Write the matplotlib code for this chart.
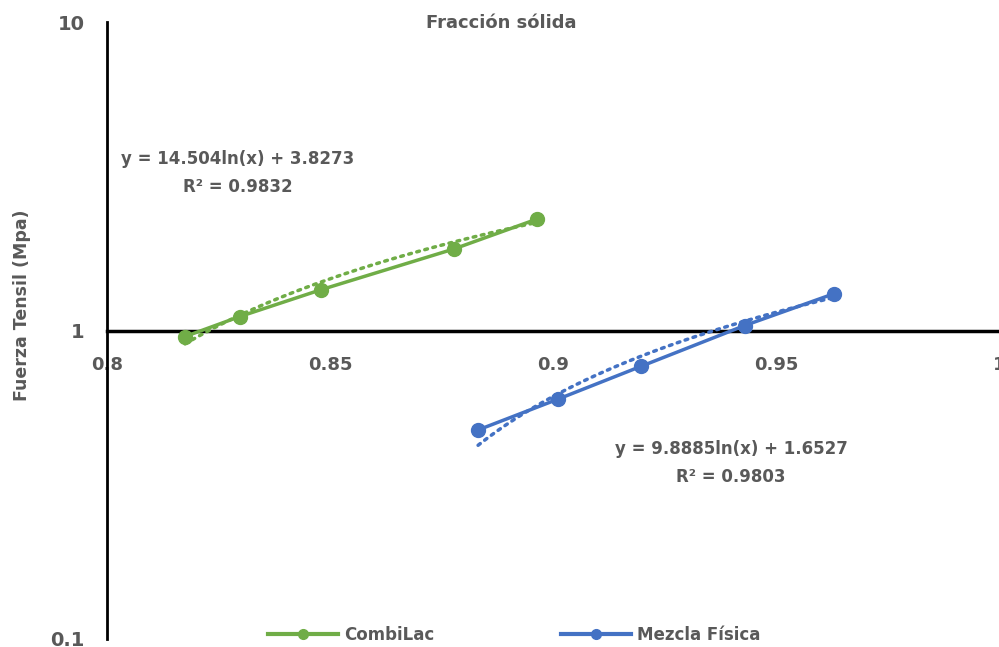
import numpy as np
import matplotlib
matplotlib.use("Agg")
import matplotlib.pyplot as plt

# Data
combilac_x = [0.8175, 0.8298, 0.848, 0.8778, 0.8964]
combilac_y = [0.956, 1.11, 1.356, 1.838, 2.297]
mezcla_x = [0.8832, 0.9011, 0.9197, 0.9430, 0.9630]
mezcla_y = [0.476, 0.599, 0.765, 1.038, 1.316]

# Trendline coefficients (logarithmic: y = a ln(x) + b)
combilac_trend = (14.504, 3.8273)
mezcla_trend = (9.8885, 1.6527)
combilac_eq = "y = 14.504ln(x) + 3.8273\nR² = 0.9832"
mezcla_eq = "y = 9.8885ln(x) + 1.6527\nR² = 0.9803"

x_ticks = [0.8, 0.85, 0.9, 0.95, 1.0]
x_tick_labels = ["0.8", "0.85", "0.9", "0.95", "1"]
y_ticks = [0.1, 1, 10]
y_tick_labels = ["0.1", "1", "10"]

green = "#70AD47"
blue = "#4472C4"
gray = "#595959"

plt.rcParams['font.family'] = ['DejaVu Sans']
plt.rcParams['font.weight'] = 'bold'

fig = plt.figure(figsize=(9.99, 6.47), dpi=100)
ax = fig.add_axes([107/999, 1 - 639/647, 1 - 107/999, (639 - 22) / 647])

ax.set_yscale('log')
ax.set_xlim(0.8, 1.0)
ax.set_ylim(0.1, 10)

def trend(xs, coef):
    xs = np.linspace(min(xs), max(xs), 100)
    return xs, coef[0] * np.log(xs) + coef[1]

tx, ty = trend(combilac_x, combilac_trend)
ax.plot(tx, ty, color=green, lw=2.5, ls=(0, (0.8, 1.6)), dash_capstyle='round', zorder=2)
tx, ty = trend(mezcla_x, mezcla_trend)
ax.plot(tx, ty, color=blue, lw=2.5, ls=(0, (0.8, 1.6)), dash_capstyle='round', zorder=2)

ax.plot(combilac_x, combilac_y, color=green, lw=2.5, marker='o', ms=10, label='CombiLac', zorder=3)
ax.plot(mezcla_x, mezcla_y, color=blue, lw=2.5, marker='o', ms=10, label='Mezcla Física', zorder=3)

for s in ['top', 'right']:
    ax.spines[s].set_visible(False)
ax.spines['left'].set_linewidth(2)
ax.spines['bottom'].set_position(('data', 1))
ax.spines['bottom'].set_linewidth(2.5)
ax.spines['bottom'].set_zorder(1)

ax.set_xticks(x_ticks)
ax.set_xticklabels(x_tick_labels)
ax.set_yticks(y_ticks)
ax.set_yticklabels(y_tick_labels)
ax.yaxis.set_minor_locator(matplotlib.ticker.NullLocator())
ax.tick_params(axis='x', length=0, pad=18, labelsize=13, labelcolor=gray)
ax.tick_params(axis='y', length=0, pad=16, labelsize=14, labelcolor=gray)
for lab in ax.get_xticklabels() + ax.get_yticklabels():
    lab.set_fontweight('bold')

fig.text(501/999, 1 - 23/647, "Fracción sólida", ha='center', va='center',
         fontsize=13, color=gray, fontweight='bold')
fig.text(22/999, 1 - 305/647, "Fuerza Tensil (Mpa)", rotation=90, ha='center', va='center',
         fontsize=12.5, color=gray, fontweight='bold')

fig.text(238/999, 1 - 173/647, combilac_eq, ha='center', va='center', fontsize=12,
         color=gray, fontweight='bold', linespacing=1.65)
fig.text(731/999, 1 - 463/647, mezcla_eq, ha='center', va='center', fontsize=12,
         color=gray, fontweight='bold', linespacing=1.65)

leg = fig.legend(loc='center', bbox_to_anchor=(514/999, 1 - 635/647), ncol=2, frameon=False,
                 fontsize=12, columnspacing=7.6, handlelength=4.2, handletextpad=0.35)
for t in leg.get_texts():
    t.set_color(gray)
    t.set_fontweight('bold')
for h in leg.legend_handles:
    h.set_markersize(7)
    h.set_linewidth(3)

fig.savefig("out.png", dpi=100)
